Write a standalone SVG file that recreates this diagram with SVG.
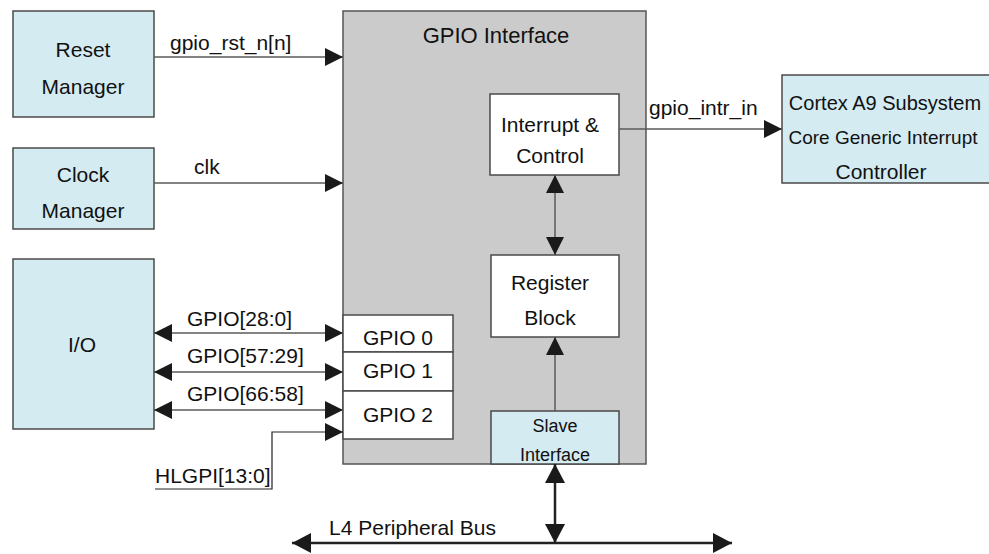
<svg xmlns="http://www.w3.org/2000/svg" width="989" height="554" viewBox="0 0 989 554">
<style>
text{font-family:"Liberation Sans",Arial,sans-serif;font-size:21px;fill:#111}
.c{text-anchor:middle}
.blue{fill:#d4ebf2;stroke:#4a4a4a;stroke-width:1.5}
.white{fill:#fff;stroke:#4a4a4a;stroke-width:1.5}
.gray{fill:#cbcbcb;stroke:#555;stroke-width:1.5}
.ln{fill:none;stroke:#5a5a5a;stroke-width:1.5}
.thin{fill:none;stroke:#222;stroke-width:1.2}
.bus{fill:none;stroke:#222;stroke-width:2.5}
</style>
<defs>
<marker id="ah" markerUnits="userSpaceOnUse" markerWidth="18" markerHeight="18" refX="18" refY="9" orient="auto-start-reverse" viewBox="0 0 18 18">
<path d="M0,0 L18,9 L0,18 z" fill="#1a1a1a"/>
</marker>
<marker id="bh" markerUnits="userSpaceOnUse" markerWidth="19" markerHeight="20" refX="19" refY="10" orient="auto-start-reverse" viewBox="0 0 19 20">
<path d="M0,0 L19,10 L0,20 z" fill="#1a1a1a"/>
</marker>
</defs>

<g id="gpio-interface">
<rect class="gray" x="343" y="11" width="303" height="453"/>
<text class="c" x="496" y="43" style="font-size:22px">GPIO Interface</text>
</g>

<g id="reset-manager">
<rect class="blue" x="13" y="11" width="141" height="106"/>
<text class="c" x="83" y="57">Reset</text>
<text class="c" x="83" y="94">Manager</text>
</g>

<g id="clock-manager">
<rect class="blue" x="13" y="148" width="141" height="81"/>
<text class="c" x="83" y="182">Clock</text>
<text class="c" x="83" y="218">Manager</text>
</g>

<g id="io">
<rect class="blue" x="13" y="259" width="141" height="170"/>
<text class="c" x="82" y="352">I/O</text>
</g>

<g id="gpio0">
<rect class="white" x="343" y="315" width="110" height="37"/>
<text class="c" x="398" y="345">GPIO 0</text>
</g>
<g id="gpio1">
<rect class="white" x="343" y="352" width="110" height="39"/>
<text class="c" x="398" y="378">GPIO 1</text>
</g>
<g id="gpio2">
<rect class="white" x="343" y="391" width="110" height="48"/>
<text class="c" x="398" y="422">GPIO 2</text>
</g>

<g id="interrupt-control">
<rect class="white" x="490" y="94" width="129" height="81"/>
<text class="c" x="550" y="132">Interrupt &amp;</text>
<text class="c" x="550" y="163">Control</text>
</g>

<g id="register-block">
<rect class="white" x="491" y="255" width="128" height="82"/>
<text class="c" x="550" y="290">Register</text>
<text class="c" x="550" y="325">Block</text>
</g>

<g id="slave-interface">
<rect class="blue" x="491" y="411" width="128" height="53"/>
<text class="c" x="555" y="432" style="font-size:18px">Slave</text>
<text class="c" x="555" y="461" style="font-size:18px">Interface</text>
</g>

<g id="cortex-gic">
<rect class="blue" x="782" y="75" width="212" height="108"/>
<text class="c" x="885" y="110" style="font-size:20px">Cortex A9 Subsystem</text>
<text class="c" x="883" y="144" style="font-size:19px">Core Generic Interrupt</text>
<text class="c" x="881" y="179">Controller</text>
</g>

<g id="connectors">
<line class="ln" x1="154" y1="57" x2="343" y2="57" marker-end="url(#ah)"/>
<text x="170" y="50">gpio_rst_n[n]</text>
<line class="ln" x1="154" y1="183" x2="343" y2="183" marker-end="url(#ah)"/>
<text x="194" y="174">clk</text>
<line class="ln" x1="154" y1="333" x2="343" y2="333" marker-start="url(#ah)" marker-end="url(#ah)"/>
<text x="187" y="326">GPIO[28:0]</text>
<line class="ln" x1="154" y1="372" x2="343" y2="372" marker-start="url(#ah)" marker-end="url(#ah)"/>
<text x="187" y="363">GPIO[57:29]</text>
<line class="ln" x1="154" y1="410" x2="343" y2="410" marker-start="url(#ah)" marker-end="url(#ah)"/>
<text x="187" y="401">GPIO[66:58]</text>
<polyline class="thin" points="155,489 272,489 272,432 343,432" marker-end="url(#ah)"/>
<text x="155" y="483">HLGPI[13:0]</text>
<line class="ln" x1="619" y1="129" x2="782" y2="129" marker-end="url(#ah)"/>
<text x="649" y="115">gpio_intr_in</text>
<line class="ln" x1="555" y1="175" x2="555" y2="255" marker-start="url(#ah)" marker-end="url(#ah)"/>
<line class="ln" x1="555" y1="411" x2="555" y2="337" marker-end="url(#ah)"/>
<line class="bus" x1="555" y1="543" x2="555" y2="464" marker-start="url(#bh)" marker-end="url(#bh)"/>
<line class="bus" x1="292" y1="543" x2="732" y2="543" marker-start="url(#bh)" marker-end="url(#bh)"/>
<text x="329" y="535">L4 Peripheral Bus</text>
</g>
</svg>
